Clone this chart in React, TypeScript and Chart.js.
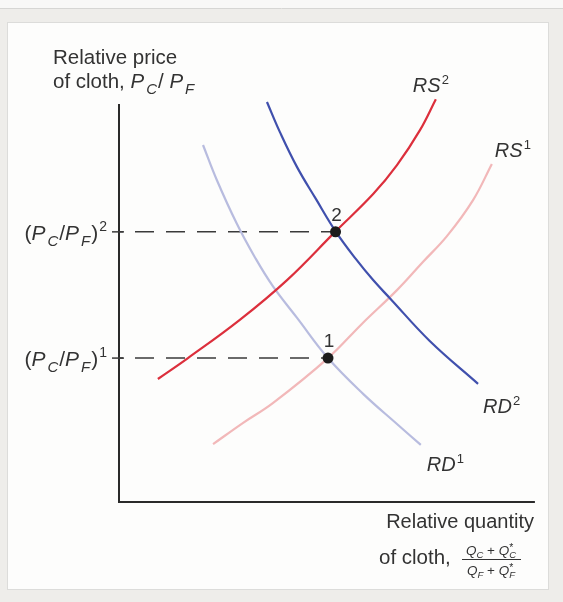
import React, { useEffect, useRef } from "react";
import { Chart, registerables } from "chart.js";

Chart.register(...registerables);

// ---- data (relative quantity 0..100, relative price 0..100) ----
const RS2_X = [9.3, 16.5, 28.9, 40.2, 51.7, 60.8, 66.5, 72.0, 75.8];
const RS2_Y = [30.6, 35.8, 45.3, 55.2, 67.2, 76.6, 83.8, 92.5, 100.2];

const RS1_X = [22.5, 29.7, 36.8, 50.0, 58.1, 66.5, 72.7, 78.5, 84.7, 89.2];
const RS1_Y = [14.4, 19.7, 24.6, 35.8, 44.3, 52.7, 59.7, 66.2, 75.1, 84.1];

const RD2_X = [35.4, 38.5, 42.6, 47.1, 51.9, 56.7, 60.8, 64.8, 74.4, 85.9];
const RD2_Y = [99.5, 92.0, 83.3, 75.4, 67.2, 60.4, 55.2, 50.7, 40.0, 29.4];

const RD1_X = [20.1, 23.4, 28.2, 32.5, 36.8, 42.6, 50.0, 58.4, 66.5, 72.2];
const RD1_Y = [88.8, 80.1, 69.2, 60.9, 53.7, 45.8, 35.8, 26.9, 19.4, 14.2];

const EQ_X = [50.0, 51.8];
const EQ_Y = [35.8, 67.2];
const EQ_LABELS = ["1", "2"];
const PRICE_TICK_SUPS = ["1", "2"];

const CURVE_NAMES = ["RS", "RS", "RD", "RD"];
const CURVE_SUPS = ["2", "1", "2", "1"];

const FONT = '"Liberation Sans", Arial, Helvetica, sans-serif';
const TEXT = "#333333";

type Run = { t: string; it?: boolean; size?: number; dy?: number; gap?: number; stack?: boolean };

function drawRuns(ctx: CanvasRenderingContext2D, runs: Run[], x: number, y: number, align: "left" | "right" | "center", base = 20) {
  const fontOf = (r: Run) => `${r.it ? "italic " : ""}${r.size ?? base}px ${FONT}`;
  const widths: number[] = [];
  let total = 0;
  runs.forEach((r, i) => {
    ctx.font = fontOf(r);
    const w = ctx.measureText(r.t).width + (r.gap || 0);
    if (r.stack && i > 0) {
      const extra = Math.max(0, w - widths[i - 1]);
      widths.push(0);
      total += extra;
    } else {
      widths.push(w);
      total += w;
    }
  });
  let cx = align === "right" ? x - total : align === "center" ? x - total / 2 : x;
  ctx.textAlign = "left";
  ctx.textBaseline = "alphabetic";
  let prevX = cx;
  runs.forEach((r, i) => {
    ctx.font = fontOf(r);
    if (r.stack) {
      ctx.fillText(r.t, prevX, y + (r.dy || 0));
    } else {
      prevX = cx;
      ctx.fillText(r.t, cx, y + (r.dy || 0));
      cx += widths[i];
    }
  });
  return total;
}

const decor = {
  id: "decor",
  beforeDraw(chart: any) {
    const ctx: CanvasRenderingContext2D = chart.ctx;
    const W = chart.width;
    const H = chart.height;
    ctx.save();
    ctx.fillStyle = "#f8f8f7";
    ctx.fillRect(0, 0, W, H);
    ctx.fillStyle = "#eeedea";
    ctx.fillRect(0, 9, W, H - 9);
    ctx.strokeStyle = "#d6d6d4";
    ctx.lineWidth = 1;
    ctx.beginPath();
    ctx.moveTo(0, 8.5);
    ctx.lineTo(W, 8.5);
    ctx.stroke();
    ctx.fillStyle = "#fdfdfc";
    ctx.fillRect(7, 22, 542, 568);
    ctx.strokeStyle = "#dcdcda";
    ctx.strokeRect(7.5, 22.5, 541, 567);
    ctx.restore();
  },
  beforeDatasetsDraw(chart: any) {
    const ctx: CanvasRenderingContext2D = chart.ctx;
    const xs = chart.scales.x;
    const ys = chart.scales.y;
    const x0 = xs.getPixelForValue(0);
    const y0 = ys.getPixelForValue(0);
    ctx.save();
    ctx.strokeStyle = "#2a2a2a";
    ctx.lineWidth = 2;
    ctx.beginPath();
    ctx.moveTo(x0, ys.getPixelForValue(99));
    ctx.lineTo(x0, y0);
    ctx.lineTo(xs.getPixelForValue(99.5), y0);
    ctx.stroke();
    // price ticks
    ctx.lineWidth = 1.5;
    ctx.strokeStyle = "#3a3a3a";
    EQ_Y.forEach((v) => {
      const py = ys.getPixelForValue(v);
      ctx.beginPath();
      ctx.moveTo(x0 - 7, py);
      ctx.lineTo(x0 + 5, py);
      ctx.stroke();
    });
    ctx.restore();
  },
  afterDatasetsDraw(chart: any) {
    const ctx: CanvasRenderingContext2D = chart.ctx;
    const xs = chart.scales.x;
    const ys = chart.scales.y;
    const x0 = xs.getPixelForValue(0);
    ctx.save();
    ctx.fillStyle = TEXT;

    // y-axis title
    drawRuns(ctx, [{ t: "Relative price" }], 53, 64, "left", 20.5);
    drawRuns(
      ctx,
      [
        { t: "of cloth, " },
        { t: "P", it: true, gap: 2 },
        { t: "C", it: true, size: 15, dy: 6, gap: 1 },
        { t: "/ " },
        { t: "P", it: true, gap: 2 },
        { t: "F", it: true, size: 15, dy: 6 },
      ],
      53,
      88,
      "left",
      20.5
    );

    // price tick labels
    EQ_Y.forEach((v, i) => {
      const py = ys.getPixelForValue(v);
      drawRuns(
        ctx,
        [
          { t: "(" },
          { t: "P", it: true, gap: 2 },
          { t: "C", it: true, size: 15, dy: 6, gap: 1 },
          { t: "/" },
          { t: "P", it: true, gap: 2 },
          { t: "F", it: true, size: 15, dy: 6, gap: 1 },
          { t: ")", gap: 1 },
          { t: PRICE_TICK_SUPS[i], size: 14, dy: -9 },
        ],
        x0 - 12,
        py + 8,
        "right",
        21
      );
    });

    // equilibrium labels
    EQ_X.forEach((v, i) => {
      const px = xs.getPixelForValue(v);
      const py = ys.getPixelForValue(EQ_Y[i]);
      drawRuns(ctx, [{ t: EQ_LABELS[i] }], px + 1, py - 11, "center", 19);
    });

    // curve labels
    const curveEnds = [
      [RS2_X[RS2_X.length - 1], RS2_Y[RS2_Y.length - 1], -23, -7],
      [RS1_X[RS1_X.length - 1], RS1_Y[RS1_Y.length - 1], 3, -7],
      [RD2_X[RD2_X.length - 1], RD2_Y[RD2_Y.length - 1], 5, 29],
      [RD1_X[RD1_X.length - 1], RD1_Y[RD1_Y.length - 1], 6, 26],
    ];
    curveEnds.forEach((c, i) => {
      const px = xs.getPixelForValue(c[0]) + c[2];
      const py = ys.getPixelForValue(c[1]) + c[3];
      drawRuns(
        ctx,
        [
          { t: CURVE_NAMES[i], it: true, gap: 1 },
          { t: CURVE_SUPS[i], size: 13, dy: -8 },
        ],
        px,
        py,
        "left"
      );
    });

    // x-axis title
    drawRuns(ctx, [{ t: "Relative quantity" }], 534, 528, "right");
    drawRuns(ctx, [{ t: "of cloth," }], 379, 564, "left", 20.5);
    const num: Run[] = [
      { t: "Q", it: true, size: 13.5 },
      { t: "C", it: true, size: 9.5, dy: 3 },
      { t: " + ", size: 13.5 },
      { t: "Q", it: true, size: 13.5 },
      { t: "C", it: true, size: 9.5, dy: 3 },
      { t: "*", size: 10.5, dy: -4, stack: true },
    ];
    const den: Run[] = [
      { t: "Q", it: true, size: 13.5 },
      { t: "F", it: true, size: 9.5, dy: 3 },
      { t: " + ", size: 13.5 },
      { t: "Q", it: true, size: 13.5 },
      { t: "F", it: true, size: 9.5, dy: 3 },
      { t: "*", size: 10.5, dy: -4, stack: true },
    ];
    drawRuns(ctx, num, 491, 555, "center", 13.5);
    drawRuns(ctx, den, 491, 575, "center", 13.5);
    ctx.strokeStyle = TEXT;
    ctx.lineWidth = 1.2;
    ctx.beginPath();
    ctx.moveTo(462, 559.5);
    ctx.lineTo(521, 559.5);
    ctx.stroke();

    ctx.restore();
  },
};

function pts(xs: number[], ys: number[]) {
  return xs.map((x, i) => ({ x, y: ys[i] }));
}

export default function App() {
  const ref = useRef<HTMLCanvasElement | null>(null);
  useEffect(() => {
    if (!ref.current) return;
    const curve = (data: any, color: string, order: number, width = 2.2) => ({
      data,
      borderColor: color,
      backgroundColor: color,
      borderWidth: width,
      pointRadius: 0,
      showLine: true,
      tension: 0.4,
      clip: false,
      order,
    });
    const dashed = EQ_X.map((x, i) => ({
      data: [
        { x: 0, y: EQ_Y[i] },
        { x, y: EQ_Y[i] },
      ],
      borderColor: "#3a3a3a",
      borderWidth: 1.5,
      borderDash: [19, 12],
      borderDashOffset: 15,
      pointRadius: 0,
      showLine: true,
      clip: false,
      order: 3,
    }));
    const chart = new Chart(ref.current, {
      type: "scatter",
      data: {
        datasets: [
          {
            data: pts(EQ_X, EQ_Y),
            backgroundColor: "#1c1c1c",
            borderColor: "#1c1c1c",
            borderWidth: 0,
            pointRadius: 5.5,
            showLine: false,
            clip: false,
            order: 0,
          },
          curve(pts(RS2_X, RS2_Y), "#dc2f3c", 1),
          curve(pts(RD2_X, RD2_Y), "#4050ad", 1),
          curve(pts(RS1_X, RS1_Y), "#f2b8b9", 2),
          curve(pts(RD1_X, RD1_Y), "#b8bcdf", 2),
          ...dashed,
        ] as any,
      },
      options: {
        responsive: false,
        animation: false,
        events: [],
        layout: { padding: { left: 119, right: 26, top: 100, bottom: 100 } },
        plugins: { legend: { display: false }, tooltip: { enabled: false } },
        scales: {
          x: { type: "linear", min: 0, max: 100, display: false },
          y: { type: "linear", min: 0, max: 100, display: false },
        },
      } as any,
      plugins: [decor],
    });
    return () => chart.destroy();
  }, []);
  return (
    <div style={{ position: "absolute", left: 0, top: 0, width: 563, height: 602 }}>
      <canvas ref={ref} width={563} height={602} style={{ width: 563, height: 602, display: "block" }} />
    </div>
  );
}
